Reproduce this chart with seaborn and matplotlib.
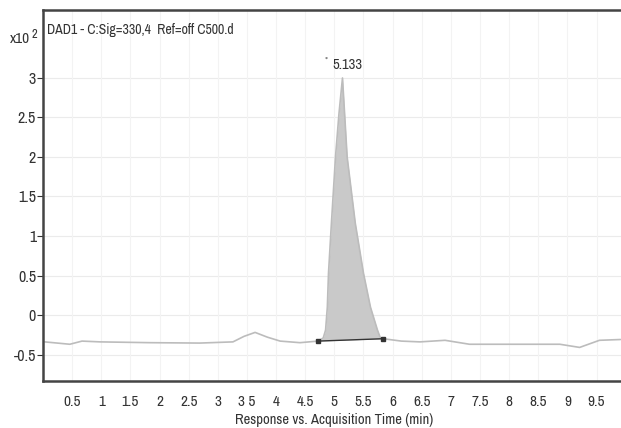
import numpy as np
import pandas as pd
import matplotlib
matplotlib.use("Agg")
import matplotlib.pyplot as plt
import seaborn as sns

# ---- data, response in units of x10^2 ----
time_min = [0.03, 0.46, 0.67, 0.98, 1.84, 2.69, 3.26, 3.45, 3.64, 3.85, 4.07, 4.41, 4.72,
            4.81, 4.85, 4.88, 4.90, 4.95, 5.02, 5.08, 5.14, 5.18, 5.22, 5.36, 5.50, 5.62, 5.74, 5.79,
            5.84, 6.15, 6.47, 6.90, 7.32, 8.18, 8.87, 9.21, 9.55, 9.91]
response = [-0.34, -0.37, -0.33, -0.34, -0.35, -0.355, -0.34, -0.27, -0.22, -0.28, -0.33, -0.35, -0.33,
            -0.29, -0.19, 0.10, 0.53, 1.16, 2.00, 2.55, 3.00, 2.50, 2.00, 1.16, 0.53, 0.10, -0.19, -0.29,
            -0.30, -0.33, -0.34, -0.32, -0.37, -0.37, -0.37, -0.41, -0.32, -0.31]

peak_rt = 5.133
peak_label = "5.133"
peak_start = (4.72, -0.33)
peak_end = (5.84, -0.30)

title_text = "DAD1 - C:Sig=330,4  Ref=off C500.d"
x_label = "Response vs. Acquisition Time (min)"
x_ticks = [0.5, 1, 1.5, 2, 2.5, 3, 3.5, 4, 4.5, 5, 5.5, 6, 6.5, 7, 7.5, 8, 8.5, 9, 9.5]
x_tick_labels = ["0.5", "1", "1.5", "2", "2.5", "3", "3 5", "4", "4.5", "5", "5.5", "6", "6.5",
                 "7", "7.5", "8", "8.5", "9", "9.5"]
y_ticks = [-0.5, 0, 0.5, 1, 1.5, 2, 2.5, 3]
y_tick_labels = ["-0.5", "0", "0.5", "1", "1.5", "2", "2.5", "3"]

df = pd.DataFrame({"time": time_min, "resp": response})

sns.set_style("white")
plt.rcParams["font.family"] = ["Archivo Narrow", "Liberation Sans", "DejaVu Sans"]

fig = plt.figure(figsize=(6.21, 4.28), dpi=100)
ax = fig.add_axes([43 / 621, 1 - 381 / 428, 1 - 43 / 621, (381 - 10) / 428])

# faint grid
for yt in y_ticks:
    ax.axhline(yt, color="#ebebeb", lw=0.8, zorder=0)
for xt in x_ticks:
    ax.axvline(xt, color="#f3f3f3", lw=0.8, zorder=0)

# filled peak area between trace and integration baseline
t = np.array(time_min)
r = np.array(response)
mask = (t > peak_start[0]) & (t < peak_end[0])
tt = np.concatenate([[peak_start[0]], t[mask], [peak_end[0]]])
rr = np.concatenate([[peak_start[1]], r[mask], [peak_end[1]]])
base = np.interp(tt, [peak_start[0], peak_end[0]], [peak_start[1], peak_end[1]])
ax.fill_between(tt, base, rr, color="#c9c9c9", lw=0, zorder=1)

sns.lineplot(data=df, x="time", y="resp", ax=ax, color="#bcbcbc", lw=1.2, zorder=2)

# integration baseline and markers
ax.plot([peak_start[0], peak_end[0]], [peak_start[1], peak_end[1]], color="#333333", lw=1.0, zorder=3)
ax.plot([peak_start[0], peak_end[0]], [peak_start[1], peak_end[1]], ls="none", marker="s",
        ms=3.5, color="#333333", zorder=4)

ax.text(4.86, 3.22, "*", fontsize=7, color="#666666", ha="center", va="center")
ax.text(4.97, 3.16, peak_label, fontsize=10.5, color="#333333", ha="left", va="center")

ax.set_xlim(0, 9.92)
ax.set_ylim(-0.835, 3.86)
ax.set_xticks(x_ticks)
ax.set_xticklabels(x_tick_labels)
ax.set_yticks(y_ticks)
ax.set_yticklabels(y_tick_labels)
ax.tick_params(axis="x", length=0, pad=10, labelsize=11, colors="#333333")
ax.tick_params(axis="y", length=4, width=0.8, pad=1, labelsize=11.5, colors="#333333", left=True)
ax.set_xlabel(x_label, fontsize=10.5, color="#333333")
ax.xaxis.label.set_va("center")
ax.xaxis.set_label_coords(0.503, (381 - 420) / 371)
ax.set_ylabel("")

for side in ["left", "bottom", "top"]:
    ax.spines[side].set_color("#444444")
    ax.spines[side].set_linewidth(1.8)
ax.spines["right"].set_visible(False)

ax.text(4 / 578, (381 - 30) / 371, title_text, transform=ax.transAxes, fontsize=10,
        color="#333333", ha="left", va="center")
fig.text(10 / 621, 1 - 39 / 428, "x10", fontsize=11, color="#333333", ha="left", va="center")
fig.text(32 / 621, 1 - 34 / 428, "2", fontsize=9, color="#333333", ha="left", va="center")

fig.savefig("out.png", dpi=100)
